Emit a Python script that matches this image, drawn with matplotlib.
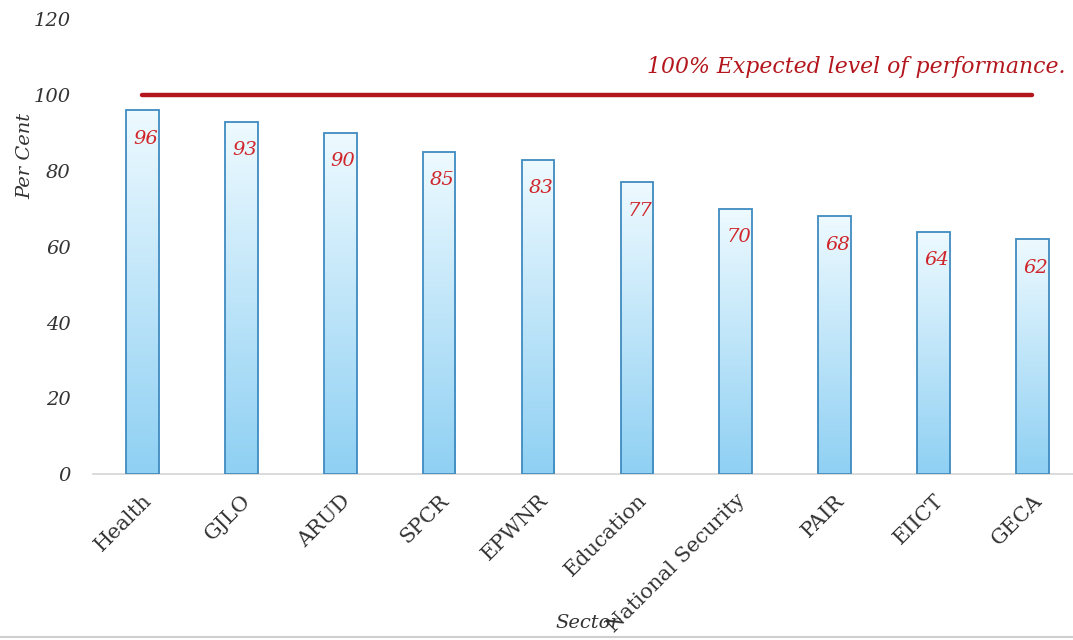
import numpy as np
import matplotlib
matplotlib.use("Agg")
import matplotlib.pyplot as plt
from matplotlib.colors import LinearSegmentedColormap

sectors = ["Health", "GJLO", "ARUD", "SPCR", "EPWNR", "Education",
           "National Security", "PAIR", "EIICT", "GECA"]
scores = [96, 93, 90, 85, 83, 77, 70, 68, 64, 62]
target = 100
yticks = [0, 20, 40, 60, 80, 100, 120]

SERIF = ["DejaVu Serif"]
RED_LINE = "#b3171d"
RED_TEXT = "#d0262b"

fig = plt.figure(figsize=(10.73, 6.40), dpi=100)
ax = fig.add_axes([0.0867, 0.259, 0.9133, 0.711])

x = np.arange(len(sectors))
bars = ax.bar(x, scores, width=0.33, facecolor="none",
              edgecolor="#3f8bc0", linewidth=1.3, zorder=3)

# vertical gradient inside each bar: pale at the top, sky blue at the bottom
grad_cmap = LinearSegmentedColormap.from_list("skyfade", ["#8fd0f3", "#eefaff"])
grad = np.linspace(0, 1, 256).reshape(-1, 1)
for b in bars:
    x0, w, h = b.get_x(), b.get_width(), b.get_height()
    im = ax.imshow(grad, cmap=grad_cmap, origin="lower", aspect="auto",
                   extent=[x0, x0 + w, 0, h], zorder=2)
    im.set_clip_path(b)

for xi, v in zip(x, scores):
    ax.text(xi + 0.03, v - 7.5, str(v), ha="center", va="center",
            fontsize=14, color=RED_TEXT, style="italic", family=SERIF, zorder=4)

ax.plot([x[0], x[-1]], [target, target], color=RED_LINE, lw=3.2,
        solid_capstyle="round", zorder=4)
ax.text(9.33, 107.3, "100% Expected level of performance.", ha="right",
        va="center", fontsize=15.8, color=RED_LINE, style="italic", family=SERIF)

ax.set_xlim(-0.5, 9.41)
ax.set_ylim(0, 120)
ax.set_yticks(yticks)
ax.set_yticklabels([str(t) for t in yticks], fontsize=14, style="italic",
                   family=SERIF, color="#333333")
ax.set_xticks(x)
ax.set_xticklabels(sectors, rotation=45, ha="right", rotation_mode="anchor",
                   fontsize=15, family=SERIF, color="#333333")
ax.tick_params(axis="y", length=0, pad=16)
ax.tick_params(axis="x", length=0, pad=12)
for s in ["top", "right", "left"]:
    ax.spines[s].set_visible(False)
ax.spines["bottom"].set_color("#d4d4d4")
ax.spines["bottom"].set_linewidth(1.2)

fig.text(0.024, 0.757, "Per Cent", rotation=90, ha="center", va="center",
         fontsize=14, style="italic", family=SERIF, color="#333333")
fig.text(0.548, 0.027, "Sector", ha="center", va="center",
         fontsize=14, style="italic", family=SERIF, color="#333333")

fig.add_artist(plt.Line2D([0, 1], [0.004, 0.004], color="#cfcfcf", lw=1.5,
                          transform=fig.transFigure))

fig.savefig("out.png", dpi=100)
